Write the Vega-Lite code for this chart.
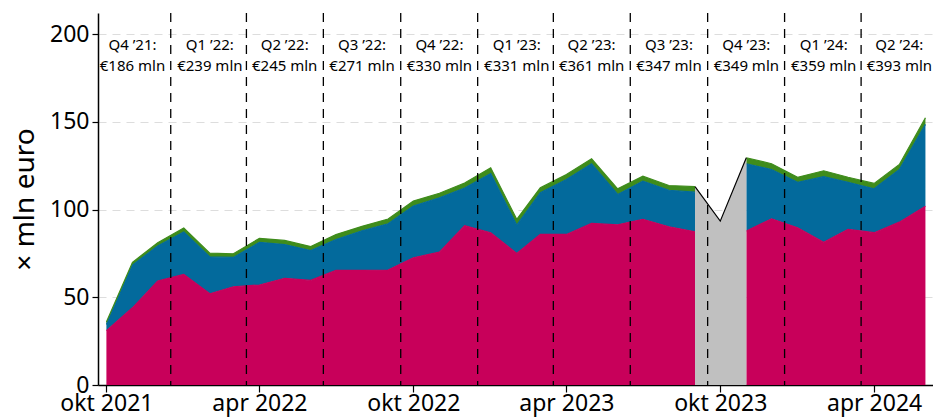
{
  "$schema": "https://vega.github.io/schema/vega-lite/v6.json",
  "autosize": "none",
  "width": 835,
  "height": 372,
  "padding": {"left": 98, "top": 13, "right": 0, "bottom": 32},
  "background": "white",
  "config": {
    "view": {"stroke": null},
    "font": "Noto Sans",
    "axis": {"labelFont": "Noto Sans", "titleFont": "Noto Sans", "labelColor": "black", "titleColor": "black", "domainColor": "black", "tickColor": "black"}
  },
  "datasets": {
    "vals": [
      {"date": "2021-10-01", "reeks": "r1", "rang": 1, "seg": 1, "waarde": 31.0},
      {"date": "2021-10-01", "reeks": "r2", "rang": 2, "seg": 1, "waarde": 3.5},
      {"date": "2021-10-01", "reeks": "r3", "rang": 3, "seg": 1, "waarde": 1.4},
      {"date": "2021-11-01", "reeks": "r1", "rang": 1, "seg": 1, "waarde": 44.0},
      {"date": "2021-11-01", "reeks": "r2", "rang": 2, "seg": 1, "waarde": 24.3},
      {"date": "2021-11-01", "reeks": "r3", "rang": 3, "seg": 1, "waarde": 1.6},
      {"date": "2021-12-01", "reeks": "r1", "rang": 1, "seg": 1, "waarde": 59.2},
      {"date": "2021-12-01", "reeks": "r2", "rang": 2, "seg": 1, "waarde": 20.0},
      {"date": "2021-12-01", "reeks": "r3", "rang": 3, "seg": 1, "waarde": 1.9},
      {"date": "2022-01-01", "reeks": "r1", "rang": 1, "seg": 1, "waarde": 63.0},
      {"date": "2022-01-01", "reeks": "r2", "rang": 2, "seg": 1, "waarde": 24.2},
      {"date": "2022-01-01", "reeks": "r3", "rang": 3, "seg": 1, "waarde": 2.3},
      {"date": "2022-02-01", "reeks": "r1", "rang": 1, "seg": 1, "waarde": 52.0},
      {"date": "2022-02-01", "reeks": "r2", "rang": 2, "seg": 1, "waarde": 21.0},
      {"date": "2022-02-01", "reeks": "r3", "rang": 3, "seg": 1, "waarde": 2.1},
      {"date": "2022-03-01", "reeks": "r1", "rang": 1, "seg": 1, "waarde": 56.0},
      {"date": "2022-03-01", "reeks": "r2", "rang": 2, "seg": 1, "waarde": 16.7},
      {"date": "2022-03-01", "reeks": "r3", "rang": 3, "seg": 1, "waarde": 2.1},
      {"date": "2022-04-01", "reeks": "r1", "rang": 1, "seg": 1, "waarde": 57.0},
      {"date": "2022-04-01", "reeks": "r2", "rang": 2, "seg": 1, "waarde": 24.3},
      {"date": "2022-04-01", "reeks": "r3", "rang": 3, "seg": 1, "waarde": 2.3},
      {"date": "2022-05-01", "reeks": "r1", "rang": 1, "seg": 1, "waarde": 60.8},
      {"date": "2022-05-01", "reeks": "r2", "rang": 2, "seg": 1, "waarde": 19.2},
      {"date": "2022-05-01", "reeks": "r3", "rang": 3, "seg": 1, "waarde": 2.4},
      {"date": "2022-06-01", "reeks": "r1", "rang": 1, "seg": 1, "waarde": 59.6},
      {"date": "2022-06-01", "reeks": "r2", "rang": 2, "seg": 1, "waarde": 17.0},
      {"date": "2022-06-01", "reeks": "r3", "rang": 3, "seg": 1, "waarde": 2.3},
      {"date": "2022-07-01", "reeks": "r1", "rang": 1, "seg": 1, "waarde": 65.3},
      {"date": "2022-07-01", "reeks": "r2", "rang": 2, "seg": 1, "waarde": 17.6},
      {"date": "2022-07-01", "reeks": "r3", "rang": 3, "seg": 1, "waarde": 2.8},
      {"date": "2022-08-01", "reeks": "r1", "rang": 1, "seg": 1, "waarde": 65.3},
      {"date": "2022-08-01", "reeks": "r2", "rang": 2, "seg": 1, "waarde": 22.6},
      {"date": "2022-08-01", "reeks": "r3", "rang": 3, "seg": 1, "waarde": 2.5},
      {"date": "2022-09-01", "reeks": "r1", "rang": 1, "seg": 1, "waarde": 65.5},
      {"date": "2022-09-01", "reeks": "r2", "rang": 2, "seg": 1, "waarde": 26.4},
      {"date": "2022-09-01", "reeks": "r3", "rang": 3, "seg": 1, "waarde": 2.7},
      {"date": "2022-10-01", "reeks": "r1", "rang": 1, "seg": 1, "waarde": 72.5},
      {"date": "2022-10-01", "reeks": "r2", "rang": 2, "seg": 1, "waarde": 29.5},
      {"date": "2022-10-01", "reeks": "r3", "rang": 3, "seg": 1, "waarde": 2.8},
      {"date": "2022-11-01", "reeks": "r1", "rang": 1, "seg": 1, "waarde": 75.7},
      {"date": "2022-11-01", "reeks": "r2", "rang": 2, "seg": 1, "waarde": 31.0},
      {"date": "2022-11-01", "reeks": "r3", "rang": 3, "seg": 1, "waarde": 2.6},
      {"date": "2022-12-01", "reeks": "r1", "rang": 1, "seg": 1, "waarde": 90.8},
      {"date": "2022-12-01", "reeks": "r2", "rang": 2, "seg": 1, "waarde": 21.5},
      {"date": "2022-12-01", "reeks": "r3", "rang": 3, "seg": 1, "waarde": 2.8},
      {"date": "2023-01-01", "reeks": "r1", "rang": 1, "seg": 1, "waarde": 86.8},
      {"date": "2023-01-01", "reeks": "r2", "rang": 2, "seg": 1, "waarde": 33.7},
      {"date": "2023-01-01", "reeks": "r3", "rang": 3, "seg": 1, "waarde": 3.3},
      {"date": "2023-02-01", "reeks": "r1", "rang": 1, "seg": 1, "waarde": 75.0},
      {"date": "2023-02-01", "reeks": "r2", "rang": 2, "seg": 1, "waarde": 16.1},
      {"date": "2023-02-01", "reeks": "r3", "rang": 3, "seg": 1, "waarde": 3.3},
      {"date": "2023-03-01", "reeks": "r1", "rang": 1, "seg": 1, "waarde": 85.8},
      {"date": "2023-03-01", "reeks": "r2", "rang": 2, "seg": 1, "waarde": 23.8},
      {"date": "2023-03-01", "reeks": "r3", "rang": 3, "seg": 1, "waarde": 2.8},
      {"date": "2023-04-01", "reeks": "r1", "rang": 1, "seg": 1, "waarde": 85.8},
      {"date": "2023-04-01", "reeks": "r2", "rang": 2, "seg": 1, "waarde": 31.3},
      {"date": "2023-04-01", "reeks": "r3", "rang": 3, "seg": 1, "waarde": 2.9},
      {"date": "2023-05-01", "reeks": "r1", "rang": 1, "seg": 1, "waarde": 92.1},
      {"date": "2023-05-01", "reeks": "r2", "rang": 2, "seg": 1, "waarde": 34.0},
      {"date": "2023-05-01", "reeks": "r3", "rang": 3, "seg": 1, "waarde": 2.8},
      {"date": "2023-06-01", "reeks": "r1", "rang": 1, "seg": 1, "waarde": 91.3},
      {"date": "2023-06-01", "reeks": "r2", "rang": 2, "seg": 1, "waarde": 17.3},
      {"date": "2023-06-01", "reeks": "r3", "rang": 3, "seg": 1, "waarde": 3.2},
      {"date": "2023-07-01", "reeks": "r1", "rang": 1, "seg": 1, "waarde": 94.4},
      {"date": "2023-07-01", "reeks": "r2", "rang": 2, "seg": 1, "waarde": 21.8},
      {"date": "2023-07-01", "reeks": "r3", "rang": 3, "seg": 1, "waarde": 2.8},
      {"date": "2023-08-01", "reeks": "r1", "rang": 1, "seg": 1, "waarde": 90.2},
      {"date": "2023-08-01", "reeks": "r2", "rang": 2, "seg": 1, "waarde": 20.8},
      {"date": "2023-08-01", "reeks": "r3", "rang": 3, "seg": 1, "waarde": 2.7},
      {"date": "2023-09-01", "reeks": "r1", "rang": 1, "seg": 1, "waarde": 87.3},
      {"date": "2023-09-01", "reeks": "r2", "rang": 2, "seg": 1, "waarde": 22.6},
      {"date": "2023-09-01", "reeks": "r3", "rang": 3, "seg": 1, "waarde": 3.1},
      {"date": "2023-11-01", "reeks": "r1", "rang": 1, "seg": 2, "waarde": 87.7},
      {"date": "2023-11-01", "reeks": "r2", "rang": 2, "seg": 2, "waarde": 38.4},
      {"date": "2023-11-01", "reeks": "r3", "rang": 3, "seg": 2, "waarde": 3.4},
      {"date": "2023-12-01", "reeks": "r1", "rang": 1, "seg": 2, "waarde": 94.7},
      {"date": "2023-12-01", "reeks": "r2", "rang": 2, "seg": 2, "waarde": 28.1},
      {"date": "2023-12-01", "reeks": "r3", "rang": 3, "seg": 2, "waarde": 3.3},
      {"date": "2024-01-01", "reeks": "r1", "rang": 1, "seg": 2, "waarde": 89.6},
      {"date": "2024-01-01", "reeks": "r2", "rang": 2, "seg": 2, "waarde": 25.9},
      {"date": "2024-01-01", "reeks": "r3", "rang": 3, "seg": 2, "waarde": 2.9},
      {"date": "2024-02-01", "reeks": "r1", "rang": 1, "seg": 2, "waarde": 81.4},
      {"date": "2024-02-01", "reeks": "r2", "rang": 2, "seg": 2, "waarde": 37.3},
      {"date": "2024-02-01", "reeks": "r3", "rang": 3, "seg": 2, "waarde": 3.4},
      {"date": "2024-03-01", "reeks": "r1", "rang": 1, "seg": 2, "waarde": 88.7},
      {"date": "2024-03-01", "reeks": "r2", "rang": 2, "seg": 2, "waarde": 26.8},
      {"date": "2024-03-01", "reeks": "r3", "rang": 3, "seg": 2, "waarde": 2.9},
      {"date": "2024-04-01", "reeks": "r1", "rang": 1, "seg": 2, "waarde": 86.8},
      {"date": "2024-04-01", "reeks": "r2", "rang": 2, "seg": 2, "waarde": 25.0},
      {"date": "2024-04-01", "reeks": "r3", "rang": 3, "seg": 2, "waarde": 3.1},
      {"date": "2024-05-01", "reeks": "r1", "rang": 1, "seg": 2, "waarde": 92.8},
      {"date": "2024-05-01", "reeks": "r2", "rang": 2, "seg": 2, "waarde": 30.0},
      {"date": "2024-05-01", "reeks": "r3", "rang": 3, "seg": 2, "waarde": 2.9},
      {"date": "2024-06-01", "reeks": "r1", "rang": 1, "seg": 2, "waarde": 101.9},
      {"date": "2024-06-01", "reeks": "r2", "rang": 2, "seg": 2, "waarde": 46.6},
      {"date": "2024-06-01", "reeks": "r3", "rang": 3, "seg": 2, "waarde": 3.8}
    ],
    "totaal": [
      {"date": "2023-09-01", "waarde": 113.0},
      {"date": "2023-10-01", "waarde": 93.4},
      {"date": "2023-11-01", "waarde": 129.5}
    ],
    "kwartalen": [
      {"date": "2021-11-01", "kwartaal": "Q4 ’21:", "bedrag": "€186 mln"},
      {"date": "2022-02-01", "kwartaal": "Q1 ’22:", "bedrag": "€239 mln"},
      {"date": "2022-05-01", "kwartaal": "Q2 ’22:", "bedrag": "€245 mln"},
      {"date": "2022-08-01", "kwartaal": "Q3 ’22:", "bedrag": "€271 mln"},
      {"date": "2022-11-01", "kwartaal": "Q4 ’22:", "bedrag": "€330 mln"},
      {"date": "2023-02-01", "kwartaal": "Q1 ’23:", "bedrag": "€331 mln"},
      {"date": "2023-05-01", "kwartaal": "Q2 ’23:", "bedrag": "€361 mln"},
      {"date": "2023-08-01", "kwartaal": "Q3 ’23:", "bedrag": "€347 mln"},
      {"date": "2023-11-01", "kwartaal": "Q4 ’23:", "bedrag": "€349 mln"},
      {"date": "2024-02-01", "kwartaal": "Q1 ’24:", "bedrag": "€359 mln"},
      {"date": "2024-05-01", "kwartaal": "Q2 ’24:", "bedrag": "€393 mln"}
    ],
    "grenzen": [
      {"date": "2021-12-16T12:00:00Z"},
      {"date": "2022-03-16T12:00:00Z"},
      {"date": "2022-06-16T00:00:00Z"},
      {"date": "2022-09-16T00:00:00Z"},
      {"date": "2022-12-16T12:00:00Z"},
      {"date": "2023-03-16T12:00:00Z"},
      {"date": "2023-06-16T00:00:00Z"},
      {"date": "2023-09-16T00:00:00Z"},
      {"date": "2023-12-16T12:00:00Z"},
      {"date": "2024-03-16T12:00:00Z"}
    ]
  },
  "encoding": {
    "x": {
      "field": "date",
      "type": "temporal",
      "scale": {
        "type": "utc",
        "domain": [
          {"year": 2021, "month": 9, "date": 21, "utc": true},
          {"year": 2024, "month": 6, "date": 10, "utc": true}
        ]
      },
      "axis": {
        "title": null,
        "grid": false,
        "values": [
          {"year": 2021, "month": 10, "date": 1, "utc": true},
          {"year": 2022, "month": 4, "date": 1, "utc": true},
          {"year": 2022, "month": 10, "date": 1, "utc": true},
          {"year": 2023, "month": 4, "date": 1, "utc": true},
          {"year": 2023, "month": 10, "date": 1, "utc": true},
          {"year": 2024, "month": 4, "date": 1, "utc": true}
        ],
        "labelExpr": "(utcmonth(datum.value) == 9 ? 'okt' : 'apr') + ' ' + utcyear(datum.value)",
        "labelFontSize": 23,
        "labelPadding": 0,
        "tickSize": 7,
        "domainWidth": 1.5,
        "tickWidth": 1.2,
        "labelFlush": false,
        "labelOverlap": false
      }
    }
  },
  "layer": [
    {
      "data": {"name": "vals"},
      "transform": [{"filter": "datum.seg == 1"}],
      "mark": {"type": "area", "opacity": 1, "line": {"color": "black", "strokeWidth": 1.2}},
      "encoding": {
        "y": {
          "field": "waarde",
          "type": "quantitative",
          "stack": "zero",
          "scale": {"domain": [0, 212], "nice": false},
          "axis": {
            "title": "× mln euro",
            "titleFontSize": 28,
            "titleFontWeight": "normal",
            "titlePadding": 10,
            "values": [0, 50, 100, 150, 200],
            "labelFontSize": 23,
            "labelPadding": 3,
            "tickSize": 6,
            "tickWidth": 1.2,
            "domainWidth": 1.5,
            "grid": true,
            "gridColor": "#dddddd",
            "gridDash": [8, 6],
            "gridWidth": 1
          }
        },
        "color": {
          "field": "reeks",
          "type": "nominal",
          "scale": {"domain": ["r1", "r2", "r3"], "range": ["#C8005A", "#036A9C", "#3F8C1C"]},
          "legend": null
        },
        "order": {"field": "rang", "type": "quantitative", "sort": "ascending"}
      }
    },
    {
      "data": {"name": "vals"},
      "transform": [{"filter": "datum.seg == 2"}],
      "mark": {"type": "area", "opacity": 1, "line": {"color": "black", "strokeWidth": 1.2}},
      "encoding": {
        "y": {"field": "waarde", "type": "quantitative", "stack": "zero"},
        "color": {"field": "reeks", "type": "nominal", "legend": null},
        "order": {"field": "rang", "type": "quantitative", "sort": "ascending"}
      }
    },
    {
      "data": {"name": "totaal"},
      "mark": {"type": "area", "color": "#C0C0C0", "opacity": 1, "line": {"color": "black", "strokeWidth": 1.2}},
      "encoding": {
        "y": {"field": "waarde", "type": "quantitative"}
      }
    },
    {
      "data": {"name": "grenzen"},
      "mark": {"type": "rule", "color": "black", "strokeWidth": 1.3, "strokeDash": [9, 7]},
      "encoding": {}
    },
    {
      "data": {"name": "kwartalen"},
      "mark": {"type": "text", "fontSize": 15, "color": "black", "baseline": "middle", "align": "center"},
      "encoding": {
        "text": {"field": "kwartaal"},
        "y": {"datum": 193.8}
      }
    },
    {
      "data": {"name": "kwartalen"},
      "mark": {"type": "text", "fontSize": 15, "color": "black", "baseline": "middle", "align": "center"},
      "encoding": {
        "text": {"field": "bedrag"},
        "y": {"datum": 181.8}
      }
    }
  ]
}
